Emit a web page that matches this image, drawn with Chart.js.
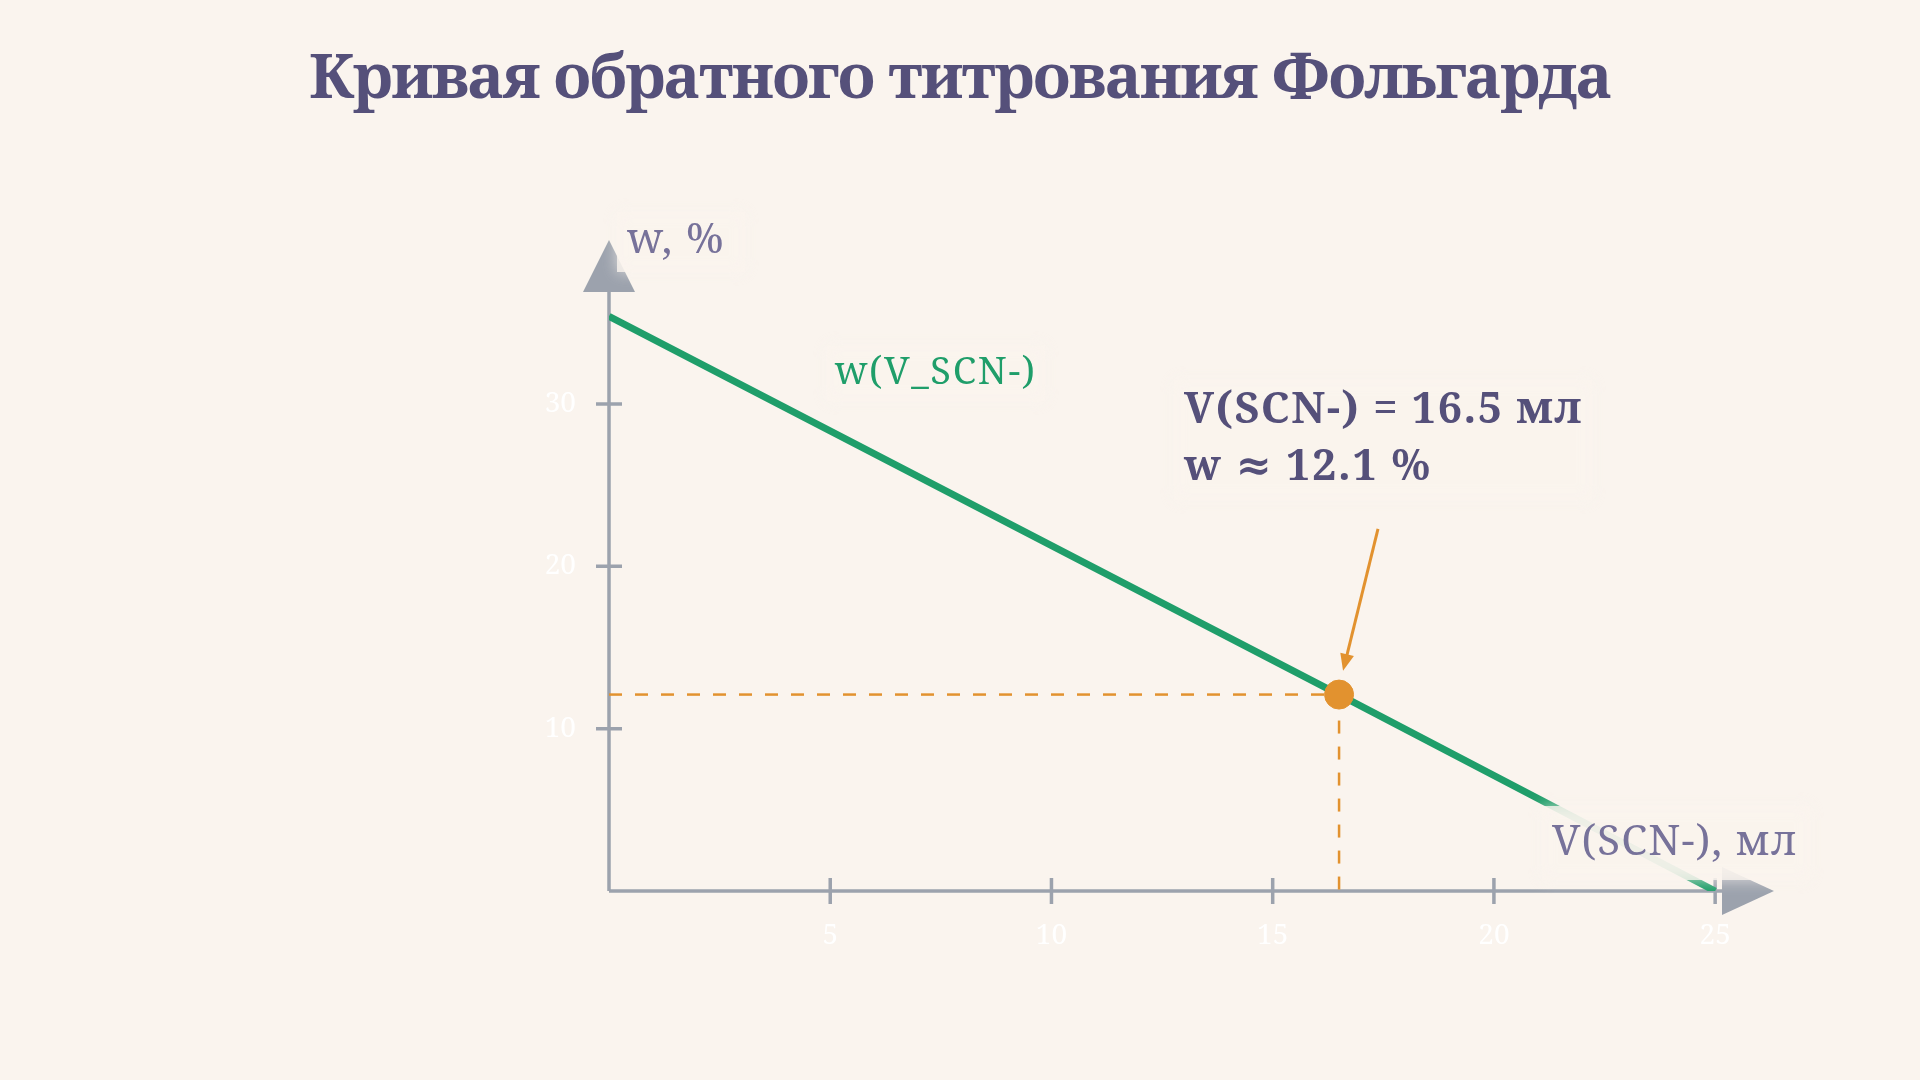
<!DOCTYPE html>
<html>
<head>
<meta charset="utf-8">
<script src="https://cdn.jsdelivr.net/npm/chart.js@4/dist/chart.umd.min.js"></script>
<style>
  html, body { margin: 0; padding: 0; background: #faf4ee; }
  #wrap { width: 1920px; height: 1080px; }
</style>
</head>
<body>
<div id="wrap"><canvas id="myChart" width="1920" height="1080"></canvas></div>
<script>
// data
const volumes = [0, 16.5, 25];          // V(SCN-), мл
const massShares = [35.4, 12.1, 0];     // w, %
const endV = 16.5;
const endW = 12.1;
const xTicks = [5, 10, 15, 20, 25];
const yTicks = [10, 20, 30];

const INK = "#55507a";
const SOFT = "#77729a";
const GREEN = "#1f9e6a";
const ORANGE = "#e2922f";
const AXIS = "#9ca2ad";
const SERIF = "'Noto Serif', 'DejaVu Serif', serif";

// draw text stretched to a given width with letter spacing
const fitText = (ctx, text, x, y, width, align) => {
  ctx.letterSpacing = "0px";
  const w = ctx.measureText(text).width;
  const ls = (width - w) / text.length;
  ctx.letterSpacing = ls + "px";
  ctx.textAlign = "left";
  let left = x;
  if (align === "center") left = x - width / 2;
  if (align === "right") left = x - width;
  ctx.fillText(text, left, y);
  ctx.letterSpacing = "0px";
};

// soft-edged background behind labels
const labelBox = (ctx, x, y, w, h) => {
  ctx.save();
  ctx.fillStyle = "rgba(250, 244, 238, 0.8)";
  ctx.shadowColor = "rgba(250, 244, 238, 0.9)";
  ctx.shadowBlur = 14;
  ctx.fillRect(x + 6, y + 6, w - 12, h - 12);
  ctx.restore();
};

const axesPlugin = {
  id: "axesPlugin",
  beforeDatasetsDraw(chart) {
    const ctx = chart.ctx;
    const xs = chart.scales.x;
    const ys = chart.scales.y;
    const x0 = xs.getPixelForValue(0);
    const y0 = ys.getPixelForValue(0);
    const top = chart.chartArea.top;
    const right = chart.chartArea.right;
    ctx.save();
    ctx.strokeStyle = AXIS;
    ctx.lineWidth = 3.5;
    ctx.beginPath();
    ctx.moveTo(x0, y0);
    ctx.lineTo(x0, top + 40);
    ctx.moveTo(x0, y0);
    ctx.lineTo(right - 40, y0);
    xTicks.forEach((t) => {
      const px = xs.getPixelForValue(t);
      ctx.moveTo(px, y0 - 13);
      ctx.lineTo(px, y0 + 13);
    });
    yTicks.forEach((t) => {
      const py = ys.getPixelForValue(t);
      ctx.moveTo(x0 - 13, py);
      ctx.lineTo(x0 + 13, py);
    });
    ctx.stroke();

    // arrow heads
    ctx.fillStyle = AXIS;
    ctx.beginPath();
    ctx.moveTo(x0, top);
    ctx.lineTo(x0 - 26, top + 52);
    ctx.lineTo(x0 + 26, top + 52);
    ctx.closePath();
    ctx.fill();
    ctx.beginPath();
    ctx.moveTo(right, y0);
    ctx.lineTo(right - 52, y0 - 24);
    ctx.lineTo(right - 52, y0 + 24);
    ctx.closePath();
    ctx.fill();

    // tick labels
    ctx.fillStyle = "#ffffff";
    ctx.font = "28px " + SERIF;
    ctx.textBaseline = "middle";
    ctx.textAlign = "center";
    xTicks.forEach((t) => {
      ctx.fillText(String(t), xs.getPixelForValue(t), y0 + 45);
    });
    ctx.textAlign = "right";
    yTicks.forEach((t) => {
      ctx.fillText(String(t), x0 - 33, ys.getPixelForValue(t));
    });
    ctx.restore();
  },
  afterDatasetsDraw(chart) {
    const ctx = chart.ctx;
    const xs = chart.scales.x;
    const ys = chart.scales.y;
    const x0 = xs.getPixelForValue(0);
    ctx.save();
    ctx.textBaseline = "middle";

    // title
    ctx.fillStyle = INK;
    ctx.font = "bold 62px " + SERIF;
    fitText(ctx, "Кривая обратного титрования Фольгарда", 960, 80, 1302, "center");

    // axis titles
    ctx.font = "42px " + SERIF;
    labelBox(ctx, x0 + 2, 206, 140, 72);
    ctx.fillStyle = SOFT;
    fitText(ctx, "w, %", x0 + 18, 241, 98, "left");

    labelBox(ctx, 1536, 800, 280, 86);
    ctx.fillStyle = SOFT;
    fitText(ctx, "V(SCN-), мл", 1552, 843, 246, "left");

    // series label
    ctx.font = "38px " + SERIF;
    const lx = xs.getPixelForValue(5.1);
    const ly = ys.getPixelForValue(31.9);
    labelBox(ctx, lx - 14, ly - 34, 230, 68);
    ctx.fillStyle = GREEN;
    fitText(ctx, "w(V_SCN-)", lx, ly, 202, "left");

    // annotation arrow
    const ax1 = xs.getPixelForValue(17.38);
    const ay1 = ys.getPixelForValue(22.3);
    const ax2 = xs.getPixelForValue(16.59);
    const ay2 = ys.getPixelForValue(13.56);
    const ang = Math.atan2(ay2 - ay1, ax2 - ax1);
    ctx.strokeStyle = ORANGE;
    ctx.fillStyle = ORANGE;
    ctx.lineWidth = 3;
    ctx.beginPath();
    ctx.moveTo(ax1, ay1);
    ctx.lineTo(ax2 - 14 * Math.cos(ang), ay2 - 14 * Math.sin(ang));
    ctx.stroke();
    ctx.beginPath();
    ctx.moveTo(ax2, ay2);
    ctx.lineTo(ax2 - 17 * Math.cos(ang) + 7 * Math.sin(ang), ay2 - 17 * Math.sin(ang) - 7 * Math.cos(ang));
    ctx.lineTo(ax2 - 17 * Math.cos(ang) - 7 * Math.sin(ang), ay2 - 17 * Math.sin(ang) + 7 * Math.cos(ang));
    ctx.closePath();
    ctx.fill();

    // annotation text
    labelBox(ctx, 1168, 374, 430, 132);
    ctx.fillStyle = INK;
    ctx.font = "bold 43px " + SERIF;
    fitText(ctx, "V(SCN-) = " + endV + " мл", 1184, 411, 399, "left");
    fitText(ctx, "w ≈ " + endW + " %", 1184, 468, 248, "left");
    ctx.restore();
  },
};

const ctx = document.getElementById("myChart");
const myChart = new Chart(ctx, {
  type: "scatter",
  data: {
    datasets: [
      {
        label: "точка",
        data: [{ x: endV, y: endW }],
        backgroundColor: ORANGE,
        borderColor: ORANGE,
        pointRadius: 14.5,
        pointHoverRadius: 14.5,
        order: 0,
      },
      {
        label: "w(V_SCN-)",
        data: volumes.map((v, i) => ({ x: v, y: massShares[i] })),
        showLine: true,
        borderColor: GREEN,
        borderWidth: 7,
        pointRadius: 0,
        fill: false,
        tension: 0,
        order: 1,
      },
      {
        label: "guide-h",
        data: [{ x: 0, y: endW }, { x: endV, y: endW }],
        showLine: true,
        borderColor: ORANGE,
        borderWidth: 2.5,
        borderDash: [13, 13],
        pointRadius: 0,
        order: 2,
      },
      {
        label: "guide-v",
        data: [{ x: endV, y: endW }, { x: endV, y: 0 }],
        showLine: true,
        borderColor: ORANGE,
        borderWidth: 2.5,
        borderDash: [13, 13],
        pointRadius: 0,
        order: 2,
      },
    ],
  },
  options: {
    responsive: false,
    animation: false,
    layout: {
      padding: { left: 609, right: 146, top: 240, bottom: 189 },
    },
    scales: {
      x: { type: "linear", display: false, min: 0, max: 26.33 },
      y: { type: "linear", display: false, min: 0, max: 40.1 },
    },
    plugins: {
      legend: { display: false },
      tooltip: { enabled: false },
    },
  },
  plugins: [axesPlugin],
});
</script>
</body>
</html>
